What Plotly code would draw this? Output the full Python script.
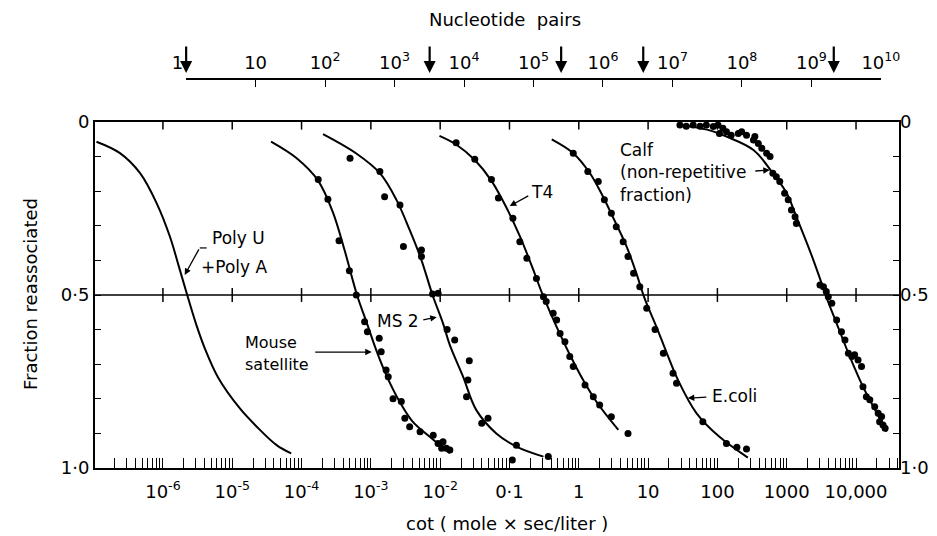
import numpy as np
import plotly.graph_objects as go

# ---------------- Reassociation curves: Cot (mole x sec/liter) vs fraction reassociated
polyUA_curve_cot = [1.10e-7, 2.40e-7, 4.68e-7, 8.13e-7, 1.26e-6, 1.70e-6, 2.24e-6, 3.02e-6,
                    3.98e-6, 6.31e-6, 1.29e-5, 2.24e-5, 4.37e-5, 7.08e-5]
polyUA_curve_frac = [0.057, 0.09, 0.148, 0.235, 0.331, 0.418, 0.5, 0.585,
                     0.652, 0.74, 0.828, 0.88, 0.934, 0.958]

mouse_curve_cot = [3.63e-5, 8.51e-5, 1.74e-4, 2.82e-4, 4.17e-4, 6.31e-4, 8.71e-4,
                   1.20e-3, 1.70e-3, 2.63e-3, 3.98e-3, 7.08e-3, 1.38e-2]
mouse_curve_frac = [0.057, 0.105, 0.17, 0.26, 0.37, 0.5, 0.58,
                    0.66, 0.735, 0.81, 0.865, 0.910, 0.957]

ms2_curve_cot = [2.04e-4, 6.17e-4, 1.35e-3, 2.34e-3, 3.63e-3, 5.37e-3, 7.76e-3, 1.10e-2,
                 1.38e-2, 2.14e-2, 3.31e-2, 6.46e-2, 0.126, 0.309]
ms2_curve_frac = [0.035, 0.091, 0.148, 0.225, 0.312, 0.399, 0.5, 0.582,
                  0.645, 0.736, 0.832, 0.90, 0.938, 0.967]

t4_curve_cot = [9.77e-3, 1.70e-2, 3.16e-2, 5.50e-2, 8.91e-2, 0.141, 0.209,
                0.309, 0.479, 0.741, 1.15, 1.82, 3.72]
t4_curve_frac = [0.04, 0.065, 0.11, 0.17, 0.245, 0.33, 0.415,
                 0.505, 0.592, 0.672, 0.745, 0.81, 0.89]

ecoli_curve_cot = [0.407, 0.832, 1.45, 2.24, 3.09, 4.90, 6.76, 8.91,
                   13.2, 18.6, 26.9, 50.1, 107, 275]
ecoli_curve_frac = [0.05, 0.09, 0.148, 0.216, 0.274, 0.36, 0.437, 0.51,
                    0.592, 0.668, 0.745, 0.842, 0.91, 0.97]

calf_curve_cot = [31.6, 70.8, 135, 331, 631, 1000, 1380, 2140, 2950, 3630,
                  5250, 8130, 12600, 20000, 27500]
calf_curve_frac = [0.01, 0.022, 0.042, 0.081, 0.148, 0.206, 0.274, 0.37, 0.447, 0.50,
                   0.582, 0.678, 0.765, 0.842, 0.895]

# ---------------- Measured points
mouse_pts_cot = [1.74e-4, 2.40e-4, 3.47e-4, 4.90e-4, 6.17e-4, 8.13e-4, 8.91e-4, 1.32e-3,
                 1.41e-3, 1.66e-3, 1.78e-3, 2.09e-3, 2.75e-3, 3.09e-3, 3.63e-3, 5.13e-3,
                 7.94e-3, 9.33e-3, 1.10e-2, 1.23e-2, 1.05e-2, 1.38e-2]
mouse_pts_frac = [0.166, 0.223, 0.343, 0.43, 0.5, 0.577, 0.606, 0.625,
                  0.664, 0.717, 0.736, 0.80, 0.808, 0.856, 0.881, 0.895,
                  0.905, 0.929, 0.924, 0.943, 0.943, 0.948]

ms2_pts_cot = [5.01e-4, 1.35e-3, 1.58e-3, 2.63e-3, 2.95e-3, 5.37e-3, 5.37e-3, 7.76e-3,
               9.33e-3, 1.26e-2, 1.62e-2, 2.63e-2, 2.51e-2, 2.40e-2, 3.98e-2, 4.90e-2,
               0.126, 0.110, 0.363]
ms2_pts_frac = [0.105, 0.143, 0.216, 0.24, 0.36, 0.37, 0.389, 0.497,
                0.495, 0.60, 0.63, 0.69, 0.746, 0.794, 0.871, 0.856,
                0.934, 0.977, 0.967]

t4_pts_cot = [1.70e-2, 3.16e-2, 5.50e-2, 6.92e-2, 0.112, 0.141, 0.178, 0.245, 0.309,
              0.339, 0.427, 0.479, 0.537, 0.631, 0.741, 0.832, 1.23, 1.62, 2.00, 2.95, 5.13]
t4_pts_frac = [0.06, 0.108, 0.166, 0.22, 0.278, 0.346, 0.394, 0.452, 0.505,
               0.519, 0.553, 0.572, 0.611, 0.635, 0.678, 0.707, 0.76, 0.794, 0.818, 0.852, 0.90]

ecoli_pts_cot = [0.832, 1.35, 1.91, 2.34, 2.95, 3.47, 4.37, 5.13, 6.17, 7.59,
                 9.55, 12.6, 16.6, 22.9, 25.7, 61.7, 135, 191, 263]
ecoli_pts_frac = [0.09, 0.143, 0.172, 0.225, 0.264, 0.303, 0.346, 0.389, 0.437, 0.476,
                  0.538, 0.60, 0.668, 0.726, 0.755, 0.866, 0.929, 0.94, 0.945]

calf_pts_cot = [28.8, 35.5, 44.7, 56.2, 69.2, 87.1, 102, 120, 107, 135, 158, 200, 224, 263,
                331, 347, 389, 437, 513, 575, 631, 708, 794, 933, 1050, 1170, 1320, 1380,
                3020, 3390, 3720, 3980, 4470, 5250, 6170, 6920, 7760, 8710, 9550, 10700,
                12000, 12600, 14100, 15800, 18600, 20900, 23400, 21900, 24500, 26300]
calf_pts_frac = [0.009, 0.012, 0.009, 0.012, 0.009, 0.013, 0.009, 0.018, 0.033, 0.028,
                 0.038, 0.033, 0.028, 0.038, 0.052, 0.042, 0.062, 0.076, 0.09, 0.10,
                 0.148, 0.158, 0.172, 0.206, 0.225, 0.254, 0.274, 0.293,
                 0.471, 0.476, 0.49, 0.505, 0.524, 0.572, 0.606, 0.63, 0.668, 0.678,
                 0.673, 0.688, 0.707, 0.765, 0.794, 0.803, 0.823, 0.842, 0.851, 0.866,
                 0.876, 0.885]

# ---------------- Axes
cot_decades = list(range(-7, 5))
cot_labels = {-6: "10<sup>-6</sup>", -5: "10<sup>-5</sup>", -4: "10<sup>-4</sup>",
              -3: "10<sup>-3</sup>", -2: "10<sup>-2</sup>", -1: "0·1", 0: "1",
              1: "10", 2: "100", 3: "1000", 4: "10,000"}
np_decades = list(range(0, 11))
np_labels = ["1\u00a0\u00a0\u00a0", "10"] + [f"10<sup>{k}</sup>" for k in range(2, 11)]
frac_ticks = [round(0.1 * i, 1) for i in range(11)]
frac_labels = {0.0: "0", 0.5: "0·5", 1.0: "1·0"}

# genome sizes (nucleotide pairs) marked by arrows on the upper scale
genome_np = [1, 3.2e3, 2.5e5, 3.8e6, 2.1e9]

X_RANGE = [-6.98, 4.62]

BLACK = "black"
FONT = "DejaVu Sans"
PLOT_H = 468  # figure height minus bottom margin


def paper_y(py):
    return (PLOT_H - py) / PLOT_H


def paper_x(px):
    return (px - 95) / 804


fig = go.Figure()


def curve(xs, ys):
    fig.add_trace(go.Scatter(x=xs, y=ys, mode="lines",
                             line=dict(color=BLACK, width=2, shape="spline", smoothing=1.0),
                             hoverinfo="skip", showlegend=False))


def dots(xs, ys):
    fig.add_trace(go.Scatter(x=xs, y=ys, mode="markers", marker=dict(color=BLACK, size=7),
                             cliponaxis=False, showlegend=False))


for cx, cy in [(polyUA_curve_cot, polyUA_curve_frac), (mouse_curve_cot, mouse_curve_frac),
               (ms2_curve_cot, ms2_curve_frac), (t4_curve_cot, t4_curve_frac),
               (ecoli_curve_cot, ecoli_curve_frac), (calf_curve_cot, calf_curve_frac)]:
    curve(cx, cy)

for px, py in [(mouse_pts_cot, mouse_pts_frac), (ms2_pts_cot, ms2_pts_frac),
               (t4_pts_cot, t4_pts_frac), (ecoli_pts_cot, ecoli_pts_frac),
               (calf_pts_cot, calf_pts_frac)]:
    dots(px, py)

# half-reassociation reference line with decade marks crossing it, plus decade marks on top frame
seg_x, seg_y = [], []
for k in cot_decades[1:]:
    v = 10.0 ** k
    seg_x += [v, v, None, v, v, None]
    seg_y += [0.0, 0.022, None, 0.48, 0.52, None]
fig.add_trace(go.Scatter(x=seg_x, y=seg_y, mode="lines", line=dict(color=BLACK, width=1.5),
                         hoverinfo="skip", showlegend=False))
fig.add_shape(type="line", xref="x domain", yref="y", x0=0, x1=1, y0=0.5, y1=0.5,
              line=dict(color=BLACK, width=1.6))

# short hook of the Poly U + Poly A pointer
fig.add_trace(go.Scatter(x=[3.40e-6, 4.28e-6], y=[0.364, 0.364], mode="lines",
                         line=dict(color=BLACK, width=1.2), hoverinfo="skip", showlegend=False))

# placeholder traces so the right-hand and upper axes are drawn
fig.add_trace(go.Scatter(x=[1], y=[0.5], yaxis="y3", mode="markers", marker=dict(opacity=0),
                         hoverinfo="skip", showlegend=False))
fig.add_trace(go.Scatter(x=[10], y=[0.5], xaxis="x2", yaxis="y2", mode="markers",
                         marker=dict(opacity=0), hoverinfo="skip", showlegend=False))

# bottom ticks: every 1..9 x decade inside the range
cot_tickvals, cot_ticktext = [], []
for k in cot_decades:
    for m in range(1, 10):
        v = m * 10.0 ** k
        if X_RANGE[0] <= np.log10(v) <= X_RANGE[1]:
            cot_tickvals.append(v)
            cot_ticktext.append(cot_labels.get(k, "") if m == 1 else "")

fig.update_layout(
    width=937, height=536,
    margin=dict(l=95, r=38, t=0, b=68, autoexpand=False),
    plot_bgcolor="white", paper_bgcolor="white",
    showlegend=False,
    font=dict(family=FONT, size=17, color=BLACK),
    xaxis=dict(type="log", range=X_RANGE, showline=True, linecolor=BLACK, linewidth=2, mirror=True,
               ticks="inside", ticklen=10, tickwidth=1.2, tickcolor=BLACK,
               tickvals=cot_tickvals, ticktext=cot_ticktext, ticklabelstandoff=6,
               showgrid=False, zeroline=False, tickfont=dict(size=18), automargin=False),
    yaxis=dict(range=[1, 0], domain=[0, paper_y(122)], showline=True, linecolor=BLACK,
               linewidth=2, mirror=True, ticks="inside", ticklen=6, tickwidth=1.2, tickcolor=BLACK,
               tickvals=frac_ticks, ticktext=[frac_labels.get(t, "") for t in frac_ticks],
               showgrid=False, zeroline=False, tickfont=dict(size=18), automargin=False),
    yaxis3=dict(range=[1, 0], overlaying="y", side="right", anchor="x", showline=False,
                ticks="inside", ticklen=6, tickwidth=1.2, tickcolor=BLACK,
                tickvals=frac_ticks, ticktext=[frac_labels.get(t, "") for t in frac_ticks],
                showgrid=False, zeroline=False, tickfont=dict(size=18), automargin=False),
    xaxis2=dict(type="log", range=[-0.002, 10.002], anchor="y2", side="top",
                domain=[paper_x(186), paper_x(881)],
                showline=True, linecolor=BLACK, linewidth=1.6,
                ticks="inside", ticklen=7, tickwidth=1.4, tickcolor=BLACK,
                tickvals=[10.0 ** k for k in np_decades], ticktext=np_labels, ticklabelstandoff=2,
                showgrid=False, zeroline=False, tickfont=dict(size=18), automargin=False),
    yaxis2=dict(domain=[paper_y(110), paper_y(80)], range=[0, 1], visible=False),
)

# genome-size arrows on the nucleotide-pair scale
for g in genome_np:
    fig.add_annotation(xref="x2", yref="paper", x=np.log10(g), y=paper_y(73), text="",
                       showarrow=True, ax=0, ay=-28, arrowhead=2, arrowsize=1.1, arrowwidth=2.2,
                       arrowcolor=BLACK)


def label(cot, frac, text, xanchor="left", size=17):
    fig.add_annotation(xref="x", yref="y", x=np.log10(cot), y=frac, text=text, showarrow=False,
                       xanchor=xanchor, yanchor="middle", font=dict(size=size))


def pointer(cot, frac, ax, ay):
    fig.add_annotation(xref="x", yref="y", x=np.log10(cot), y=frac, text="", showarrow=True,
                       ax=ax, ay=ay, arrowhead=2, arrowsize=1.0, arrowwidth=1.3, arrowcolor=BLACK)


label(4.8e-6, 0.335, "Poly U")
label(3.3e-6, 0.419, "+Poly A")
pointer(2.06e-6, 0.442, 15, -27)

label(1.41e-5, 0.638, "Mouse", size=16)
label(1.41e-5, 0.700, "satellite", size=16)
pointer(1.03e-3, 0.665, -58, 0)

label(2.45e-3, 0.575, "MS 2", xanchor="center")
pointer(8.93e-3, 0.564, -15, 3)

label(0.292, 0.202, "T4", xanchor="center")
pointer(0.101, 0.243, 20, -11)

label(3.65, 0.081, "Calf")
label(3.65, 0.145, "(non-repetitive")
label(3.65, 0.211, "fraction)")
pointer(570, 0.139, -16, 1)

label(77.6, 0.792, "E.coli")
pointer(37.4, 0.798, 20, -1)

# titles
fig.add_annotation(xref="paper", yref="paper", x=paper_x(505), y=paper_y(20),
                   xanchor="center", yanchor="middle",
                   text="Nucleotide\u00a0\u00a0pairs", showarrow=False, font=dict(size=18))
fig.add_annotation(xref="paper", yref="paper", x=paper_x(507), y=paper_y(523),
                   xanchor="center", yanchor="middle",
                   text="cot ( mole × sec/liter )", showarrow=False, font=dict(size=18))
fig.add_annotation(xref="paper", yref="paper", x=paper_x(30), y=paper_y(294),
                   xanchor="center", yanchor="middle",
                   text="Fraction reassociated", textangle=-90, showarrow=False, font=dict(size=18))

fig.write_html("out.html")
